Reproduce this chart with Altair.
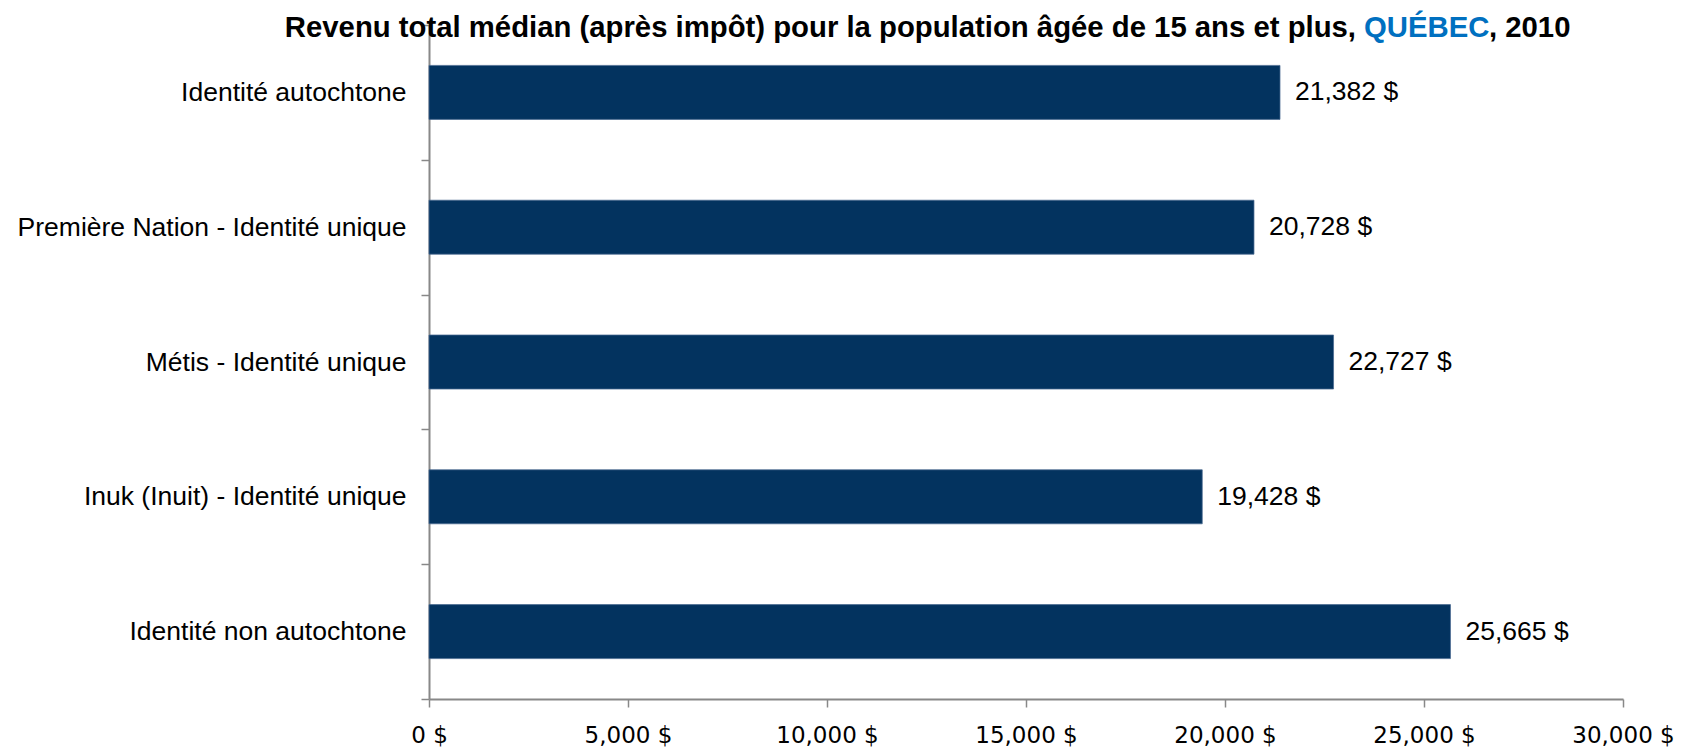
import altair as alt
import pandas as pd

categories = [
    "Identité autochtone",
    "Première Nation - Identité unique",
    "Métis - Identité unique",
    "Inuk (Inuit) - Identité unique",
    "Identité non autochtone",
]
values = [21382, 20728, 22727, 19428, 25665]
x_ticks = [0, 5000, 10000, 15000, 20000, 25000, 30000]

title_main = "Revenu total médian (après impôt) pour la population âgée de 15 ans et plus,"
title_place = "QUÉBEC"
title_year = ", 2010"

df = pd.DataFrame({"cat": categories, "val": values})
df["label"] = df["val"].map(lambda v: f"{v:,} $")

FONT = "Liberation Sans"
BAR = "#03335F"
AXIS = "#888888"

y_enc = alt.Y(
    "cat:N",
    sort=categories,
    title=None,
    scale=alt.Scale(paddingInner=0, paddingOuter=0),
    axis=alt.Axis(
        tickBand="extent",
        labelFontSize=26.5,
        labelFont=FONT,
        labelColor="#000000",
        labelPadding=15,
        labelLimit=1000,
        tickSize=8,
        tickColor=AXIS,
        tickWidth=1.5,
        domainColor=AXIS,
        domainWidth=2,
    ),
)
x_enc = alt.X(
    "val:Q",
    title=None,
    scale=alt.Scale(domain=[0, 30000], nice=False),
    axis=alt.Axis(
        values=x_ticks,
        labelExpr="format(datum.value, ',') + ' $'",
        labelFontSize=23,
        labelFont="DejaVu Sans",
        labelColor="#000000",
        labelPadding=17,
        labelFlush=False,
        tickSize=8,
        tickColor=AXIS,
        tickWidth=1.5,
        domainColor=AXIS,
        domainWidth=2,
        grid=False,
    ),
)

base = alt.Chart(df)
bars = base.mark_bar(color=BAR, stroke="#4a6a90", strokeWidth=0.75, size=54).encode(x=x_enc, y=y_enc)
labels = base.mark_text(
    align="left", baseline="middle", dx=15, fontSize=26.5, font=FONT, color="#000000"
).encode(x="val:Q", y=alt.Y("cat:N", sort=categories), text="label:N")

tdf = pd.DataFrame({"a": [0]})
t1 = alt.Chart(tdf).mark_text(
    text=title_main, align="right", baseline="alphabetic", fontSize=29.3,
    fontWeight="bold", font=FONT, color="#000000"
).encode(x=alt.value(927), y=alt.value(12))
t2 = alt.Chart(tdf).mark_text(
    text=title_place, align="left", baseline="alphabetic", fontSize=29.3,
    fontWeight="bold", font=FONT, color="#0070C0"
).encode(x=alt.value(935), y=alt.value(12))
t3 = alt.Chart(tdf).mark_text(
    text=title_year, align="left", baseline="alphabetic", fontSize=29.3,
    fontWeight="bold", font=FONT, color="#000000"
).encode(x=alt.value(1060), y=alt.value(12))

chart = (
    alt.layer(bars, labels, t1, t2, t3)
    .properties(
        width=1194,
        height=674,
        autosize=alt.AutoSizeParams(type="none"),
        padding={"left": 421, "top": 17, "right": 57, "bottom": 49},
        background="white",
    )
    .configure_view(strokeWidth=0, stroke="transparent")
)

chart.save("out.html", embed_options={"renderer": "svg", "actions": False})
